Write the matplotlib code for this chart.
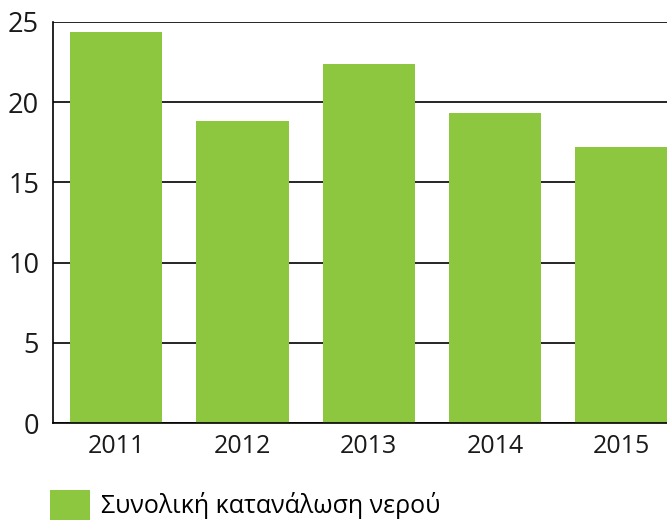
import matplotlib
matplotlib.use('Agg')
import matplotlib.pyplot as plt

years = ['2011', '2012', '2013', '2014', '2015']
consumption = [24.4, 18.8, 22.4, 19.3, 17.2]
series_name = 'Συνολική κατανάλωση νερού'
y_ticks = [0, 5, 10, 15, 20, 25]

plt.rcParams['font.family'] = ['Open Sans', 'DejaVu Sans']
plt.rcParams['font.size'] = 18

fig = plt.figure(figsize=(6.67, 5.2), dpi=100)
ax = fig.add_axes([53 / 667, 1 - 423 / 520, 1 - 53 / 667, (423 - 22) / 520])

x = list(range(len(years)))
ax.bar(x, consumption, width=0.73, color='#8DC63F', label=series_name, zorder=2)

ax.set_xlim(-0.5, 4.36)
ax.set_ylim(0, 25)
ax.set_yticks(y_ticks)
ax.set_xticks(x)
ax.set_xticklabels(years)
ax.yaxis.grid(True, color='black', linewidth=1.2, zorder=1)
ax.set_axisbelow(True)
ax.tick_params(axis='both', length=0, colors='#1a1a1a')
ax.tick_params(axis='x', pad=8, labelsize=18)
ax.tick_params(axis='y', pad=10, labelsize=19.5)
for side in ['top', 'right']:
    ax.spines[side].set_visible(False)
ax.spines['left'].set_linewidth(1.2)
ax.spines['bottom'].set_linewidth(1.2)

fig.legend(loc='lower left', bbox_to_anchor=(50 / 667, 0.0), frameon=False,
           fontsize=18, handlelength=1.6, handleheight=1.5, handletextpad=0.45,
           borderpad=0.0, borderaxespad=0.0)

fig.savefig('out.png', dpi=100)
